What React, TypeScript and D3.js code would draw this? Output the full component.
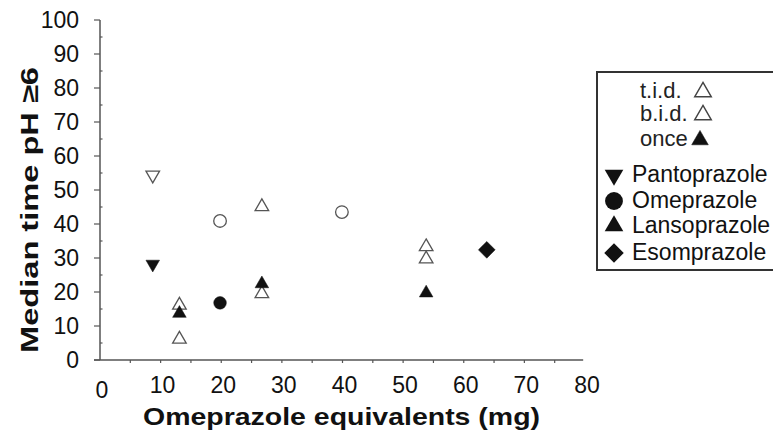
import React, { useEffect, useRef } from "react";
import * as d3 from "d3";

// values: [omeprazole equivalents (mg), median time pH >= 6]
const pantoMulti = [[8.7, 54.4]];
const pantoOnce = [[8.7, 28.2]];
const omeMulti = [
  [19.8, 40.9],
  [39.9, 43.5],
];
const omeOnce = [[19.8, 16.8]];
const lansoMulti = [
  [13.1, 16.1],
  [13.1, 6.1],
  [26.7, 45.1],
  [26.7, 19.5],
  [53.8, 33.3],
  [53.8, 29.7],
];
const lansoOnce = [
  [13.1, 13.7],
  [26.7, 22.4],
  [53.8, 19.7],
];
const esoOnce = [[63.8, 32.4]];

const xTicks = [0, 10, 20, 30, 40, 50, 60, 70, 80];
const yTicks = [0, 10, 20, 30, 40, 50, 60, 70, 80, 90, 100];

const regimenLabels = ["t.i.d.", "b.i.d.", "once"];
const drugLabels = ["Pantoprazole", "Omeprazole", "Lansoprazole", "Esomprazole"];

const FONT = "'Liberation Sans', Arial, Helvetica, sans-serif";

type Shape = "up" | "down" | "circle" | "diamond";

const markerPath = (shape: Shape, size: number) => {
  if (shape === "circle") return d3.symbol().type(d3.symbolCircle).size(size)()!;
  if (shape === "diamond") return d3.symbol().type(d3.symbolSquare).size(size)()!;
  return d3.symbol().type(d3.symbolTriangle).size(size)()!;
};
const markerRotate = (shape: Shape) =>
  shape === "down" ? 180 : shape === "diamond" ? 45 : 0;

const App = () => {
  const ref = useRef<SVGSVGElement | null>(null);

  useEffect(() => {
    const width = 773,
      height = 439;
    const svg = d3.select(ref.current);
    svg.selectAll("*").remove();
    svg.attr("width", width).attr("height", height);
    svg.append("rect").attr("width", width).attr("height", height).attr("fill", "#fff");

    const x = d3.scaleLinear().domain([0, 80]).range([100, 585]);
    const y = d3.scaleLinear().domain([0, 100]).range([360, 20]);
    const axisColor = "#555";

    // axes lines
    svg
      .append("line")
      .attr("x1", x(0))
      .attr("x2", x(0))
      .attr("y1", y(100))
      .attr("y2", y(0))
      .attr("stroke", axisColor)
      .attr("stroke-width", 1.5);
    svg
      .append("line")
      .attr("x1", x(0) - 6)
      .attr("x2", x(79.7))
      .attr("y1", y(0))
      .attr("y2", y(0))
      .attr("stroke", axisColor)
      .attr("stroke-width", 1.5);

    // y ticks: majors to the left, minors small
    const yMinor = d3.range(5, 100, 10);
    svg
      .append("g")
      .selectAll("line")
      .data(yTicks)
      .enter()
      .append("line")
      .attr("x1", x(0) - 6)
      .attr("x2", x(0))
      .attr("y1", (d) => y(d))
      .attr("y2", (d) => y(d))
      .attr("stroke", axisColor)
      .attr("stroke-width", 1.2);
    svg
      .append("g")
      .selectAll("line")
      .data(yMinor)
      .enter()
      .append("line")
      .attr("x1", x(0))
      .attr("x2", x(0) + 2.5)
      .attr("y1", (d) => y(d))
      .attr("y2", (d) => y(d))
      .attr("stroke", axisColor)
      .attr("stroke-width", 1.2);

    // x ticks every 5, pointing down
    const xMinor = d3.range(5, 80, 5);
    svg
      .append("g")
      .selectAll("line")
      .data(xMinor)
      .enter()
      .append("line")
      .attr("x1", (d) => x(d))
      .attr("x2", (d) => x(d))
      .attr("y1", y(0))
      .attr("y2", y(0) + 3)
      .attr("stroke", axisColor)
      .attr("stroke-width", 1.2);

    // tick labels
    svg
      .append("g")
      .selectAll("text")
      .data(yTicks)
      .enter()
      .append("text")
      .attr("x", 79)
      .attr("y", (d) => y(d) + 8)
      .attr("text-anchor", "end")
      .attr("font-family", FONT)
      .attr("font-size", 23)
      .attr("fill", "#111")
      .text((d) => d);
    svg
      .append("g")
      .selectAll("text")
      .data(xTicks)
      .enter()
      .append("text")
      .attr("x", (d) => x(d) + 2)
      .attr("y", (d) => (d === 0 ? 398 : 393))
      .attr("text-anchor", "middle")
      .attr("font-family", FONT)
      .attr("font-size", 23)
      .attr("fill", "#111")
      .text((d) => d);

    // axis titles
    svg
      .append("text")
      .attr("x", 143)
      .attr("y", 425)
      .attr("font-family", FONT)
      .attr("font-weight", "bold")
      .attr("font-size", 24)
      .attr("textLength", 397)
      .attr("lengthAdjust", "spacingAndGlyphs")
      .attr("fill", "#111")
      .text("Omeprazole equivalents (mg)");
    svg
      .append("text")
      .attr("transform", "translate(38,353) rotate(-90)")
      .attr("font-family", FONT)
      .attr("font-weight", "bold")
      .attr("font-size", 24)
      .attr("textLength", 286)
      .attr("lengthAdjust", "spacingAndGlyphs")
      .attr("fill", "#111")
      .text("Median time pH \u22656");

    // data markers
    const series: { points: number[][]; shape: Shape; filled: boolean }[] = [
      { points: pantoMulti, shape: "down", filled: false },
      { points: pantoOnce, shape: "down", filled: true },
      { points: omeMulti, shape: "circle", filled: false },
      { points: omeOnce, shape: "circle", filled: true },
      { points: lansoMulti, shape: "up", filled: false },
      { points: lansoOnce, shape: "up", filled: true },
      { points: esoOnce, shape: "diamond", filled: true },
    ];
    const plotSize: Record<Shape, number> = { up: 80, down: 80, circle: 125, diamond: 140 };

    series.forEach((s) => {
      svg
        .append("g")
        .selectAll("path")
        .data(s.points)
        .enter()
        .append("path")
        .attr("d", markerPath(s.shape, plotSize[s.shape]))
        .attr(
          "transform",
          (d) => `translate(${x(d[0])},${y(d[1])}) rotate(${markerRotate(s.shape)})`
        )
        .attr("fill", s.filled ? "#111" : "#fff")
        .attr("stroke", s.filled ? "#111" : "#555")
        .attr("stroke-width", s.filled ? 0.5 : 1.3);
    });

    // legend
    const legend = svg.append("g");
    legend
      .append("rect")
      .attr("x", 597)
      .attr("y", 72)
      .attr("width", 200)
      .attr("height", 198)
      .attr("fill", "#fff")
      .attr("stroke", "#333")
      .attr("stroke-width", 2);

    const regimenY = [98, 121, 146];
    const regimenFilled = [false, false, true];
    regimenLabels.forEach((label, i) => {
      legend
        .append("text")
        .attr("x", 640)
        .attr("y", regimenY[i])
        .attr("font-family", FONT)
        .attr("font-size", 22)
        .attr("fill", "#222")
        .text(label);
      legend
        .append("path")
        .attr("d", markerPath("up", 120))
        .attr("transform", `translate(${i === 2 ? 700 : 703},${regimenY[i] - 6})`)
        .attr("fill", regimenFilled[i] ? "#111" : "#fff")
        .attr("stroke", regimenFilled[i] ? "#111" : "#444")
        .attr("stroke-width", regimenFilled[i] ? 0.5 : 1.4);
    });

    const drugY = [182, 208, 233, 260];
    const drugShapes: Shape[] = ["down", "circle", "up", "diamond"];
    const legendSize: Record<Shape, number> = { up: 150, down: 150, circle: 250, diamond: 190 };
    drugLabels.forEach((label, i) => {
      legend
        .append("path")
        .attr("d", markerPath(drugShapes[i], legendSize[drugShapes[i]]))
        .attr(
          "transform",
          `translate(614,${drugY[i] - 7}) rotate(${markerRotate(drugShapes[i])})`
        )
        .attr("fill", "#111");
      legend
        .append("text")
        .attr("x", 632)
        .attr("y", drugY[i])
        .attr("font-family", FONT)
        .attr("font-size", 23)
        .attr("fill", "#111")
        .text(label);
    });
  }, []);

  return (
    <svg
      ref={ref}
      style={{ position: "absolute", left: 0, top: 0, display: "block" }}
    ></svg>
  );
};

export default App;
